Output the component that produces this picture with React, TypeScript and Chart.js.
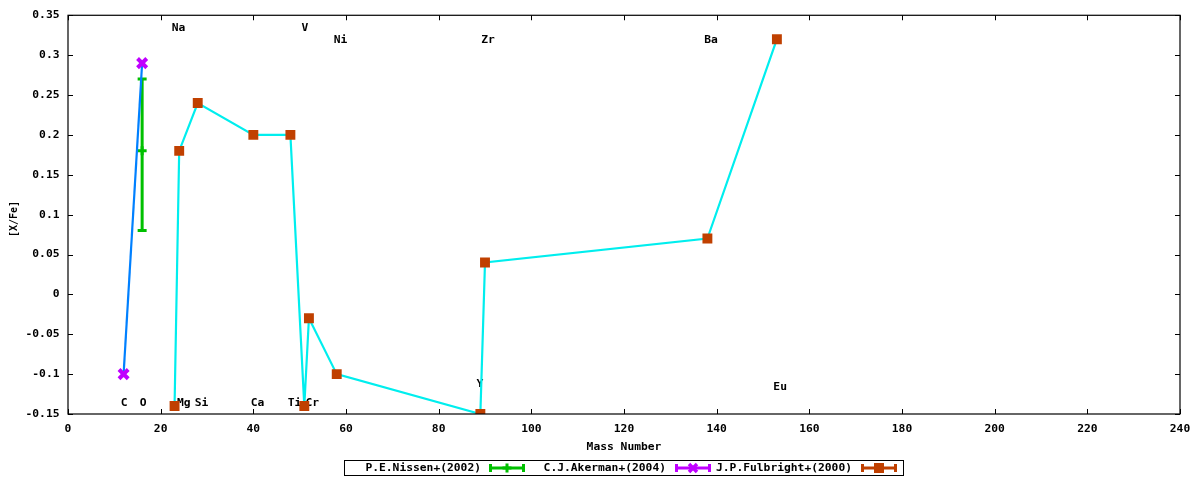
import React, { useEffect, useRef } from "react";
import { Chart, registerables } from "chart.js";

Chart.register(...registerables);

// ---- data ----
const xTicks = [0, 20, 40, 60, 80, 100, 120, 140, 160, 180, 200, 220, 240];
const xTickLabels = ["0", "20", "40", "60", "80", "100", "120", "140", "160", "180", "200", "220", "240"];
const yTicks = [-0.15, -0.1, -0.05, 0, 0.05, 0.1, 0.15, 0.2, 0.25, 0.3, 0.35];
const yTickLabels = ["-0.15", "-0.1", "-0.05", "0", "0.05", "0.1", "0.15", "0.2", "0.25", "0.3", "0.35"];

const nissenX = [16];
const nissenY = [0.18];
const nissenLow = [0.08];
const nissenHigh = [0.27];

const akermanX = [12, 16];
const akermanY = [-0.1, 0.29];

const fulbrightX = [23, 24, 28, 40, 48, 51, 52, 58, 89, 90, 138, 153];
const fulbrightY = [-0.14, 0.18, 0.24, 0.2, 0.2, -0.14, -0.03, -0.1, -0.15, 0.04, 0.07, 0.32];

const elementNames = ["C", "O", "Na", "Mg", "Si", "Ca", "Ti", "V", "Cr", "Ni", "Y", "Zr", "Ba", "Eu"];
const elementLabelX = [12.1, 16.2, 23.85, 25.0, 28.8, 40.9, 48.9, 51.15, 52.7, 58.8, 88.9, 90.65, 138.8, 153.7];
const elementLabelY = [-0.136, -0.136, 0.334, -0.136, -0.136, -0.136, -0.136, 0.334, -0.136, 0.319, -0.113, 0.319, 0.319, -0.116];

const legendNames = ["P.E.Nissen+(2002)", "C.J.Akerman+(2004)", "J.P.Fulbright+(2000)"];
const xTitle = "Mass Number";
const yTitle = "[X/Fe]";

// ---- styles ----
const GREEN = "#00c000";
const BLUE = "#0080ff";
const PURPLE = "#c000ff";
const CYAN = "#00eeee";
const BROWN = "#c04000";
const FONT = 'bold 11.3px "DejaVu Sans Mono"';
const FONT_FAMILY = '"DejaVu Sans Mono"';

function drawMarker(ctx: CanvasRenderingContext2D, kind: string, x: number, y: number, color: string) {
  ctx.save();
  ctx.strokeStyle = color;
  ctx.fillStyle = color;
  if (kind === "plus") {
    ctx.lineWidth = 3;
    ctx.beginPath();
    ctx.moveTo(x - 4.5, y);
    ctx.lineTo(x + 4.5, y);
    ctx.moveTo(x, y - 4.5);
    ctx.lineTo(x, y + 4.5);
    ctx.stroke();
  } else if (kind === "x") {
    ctx.lineWidth = 3.5;
    ctx.beginPath();
    ctx.moveTo(x - 4, y - 4);
    ctx.lineTo(x + 4, y + 4);
    ctx.moveTo(x + 4, y - 4);
    ctx.lineTo(x - 4, y + 4);
    ctx.stroke();
  } else {
    ctx.fillRect(x - 5, y - 5, 10, 10);
  }
  ctx.restore();
}

const customPlugin = {
  id: "gnuplotStyle",
  beforeDatasetsDraw(chart: any) {
    const ctx: CanvasRenderingContext2D = chart.ctx;
    const xs = chart.scales.x;
    const ys = chart.scales.y;
    // element labels (behind data)
    ctx.save();
    ctx.font = FONT;
    ctx.fillStyle = "#000";
    ctx.textAlign = "center";
    ctx.textBaseline = "middle";
    elementNames.forEach((n, i) => {
      ctx.fillText(n, xs.getPixelForValue(elementLabelX[i]), ys.getPixelForValue(elementLabelY[i]));
    });
    ctx.restore();
    // Nissen error bars
    ctx.save();
    ctx.strokeStyle = GREEN;
    ctx.lineWidth = 3;
    nissenX.forEach((xv, i) => {
      const px = xs.getPixelForValue(xv);
      const pLow = ys.getPixelForValue(nissenLow[i]);
      const pHigh = ys.getPixelForValue(nissenHigh[i]);
      ctx.beginPath();
      ctx.moveTo(px, pLow);
      ctx.lineTo(px, pHigh);
      ctx.moveTo(px - 4.5, pLow);
      ctx.lineTo(px + 4.5, pLow);
      ctx.moveTo(px - 4.5, pHigh);
      ctx.lineTo(px + 4.5, pHigh);
      ctx.stroke();
    });
    ctx.restore();
  },
  afterDraw(chart: any) {
    const ctx: CanvasRenderingContext2D = chart.ctx;
    const { left, right, top, bottom } = chart.chartArea;
    const xs = chart.scales.x;
    const ys = chart.scales.y;
    ctx.save();
    // border
    ctx.strokeStyle = "#000";
    ctx.lineWidth = 1.2;
    ctx.strokeRect(left, top, right - left, bottom - top);
    // inward ticks
    ctx.beginPath();
    const tl = 5;
    xTicks.forEach((v) => {
      const px = Math.round(xs.getPixelForValue(v)) + 0.5;
      ctx.moveTo(px, bottom);
      ctx.lineTo(px, bottom - tl);
      ctx.moveTo(px, top);
      ctx.lineTo(px, top + tl);
    });
    yTicks.forEach((v) => {
      const py = Math.round(ys.getPixelForValue(v)) + 0.5;
      ctx.moveTo(left, py);
      ctx.lineTo(left + tl, py);
      ctx.moveTo(right, py);
      ctx.lineTo(right - tl, py);
    });
    ctx.lineWidth = 1;
    ctx.stroke();

    // axis titles
    ctx.fillStyle = "#000";
    ctx.font = FONT;
    ctx.textAlign = "center";
    ctx.textBaseline = "middle";
    ctx.fillText(xTitle, (left + right) / 2, 447);
    ctx.save();
    ctx.translate(14, 219);
    ctx.rotate(-Math.PI / 2);
    ctx.font = "bold 10px " + FONT_FAMILY;
    ctx.fillText(yTitle, 0, 0);
    ctx.restore();

    // legend
    ctx.lineWidth = 1;
    ctx.strokeStyle = "#000";
    ctx.strokeRect(344.5, 460.5, 559, 15);
    const textRight = [481, 666, 852];
    const sampleStart = [489, 675, 861];
    const colors = [GREEN, PURPLE, BROWN];
    const markers = ["plus", "x", "square"];
    const ly = 468;
    legendNames.forEach((name, i) => {
      ctx.font = FONT;
      ctx.fillStyle = "#000";
      ctx.textAlign = "right";
      ctx.textBaseline = "middle";
      ctx.fillText(name, textRight[i], ly);
      const sx = sampleStart[i];
      const ex = sx + 36;
      ctx.save();
      ctx.strokeStyle = colors[i];
      ctx.lineWidth = 3;
      ctx.beginPath();
      ctx.moveTo(sx, ly);
      ctx.lineTo(ex, ly);
      ctx.moveTo(sx + 1.5, ly - 4);
      ctx.lineTo(sx + 1.5, ly + 4);
      ctx.moveTo(ex - 1.5, ly - 4);
      ctx.lineTo(ex - 1.5, ly + 4);
      ctx.stroke();
      ctx.restore();
      drawMarker(ctx, markers[i], (sx + ex) / 2, ly, colors[i]);
    });
    ctx.restore();
  },
};

export default function App() {
  const ref = useRef<HTMLCanvasElement | null>(null);
  useEffect(() => {
    document.body.style.margin = "0";
    const canvas = ref.current;
    if (!canvas) return;
    const tickFont = { family: FONT_FAMILY, size: 11.3, weight: "bold" as const };
    const chart = new Chart(canvas, {
      type: "scatter",
      data: {
        datasets: [
          {
            label: legendNames[2],
            data: fulbrightX.map((x, i) => ({ x, y: fulbrightY[i] })),
            showLine: true,
            borderColor: CYAN,
            borderWidth: 2.2,
            tension: 0,
            pointStyle: "rect",
            pointRadius: 7,
            pointBackgroundColor: BROWN,
            pointBorderColor: BROWN,
            pointBorderWidth: 0,
            order: 1,
          },
          {
            label: legendNames[1],
            data: akermanX.map((x, i) => ({ x, y: akermanY[i] })),
            showLine: true,
            borderColor: BLUE,
            borderWidth: 2.2,
            tension: 0,
            pointStyle: "crossRot",
            pointRadius: 6.5,
            pointBackgroundColor: PURPLE,
            pointBorderColor: PURPLE,
            pointBorderWidth: 4,
            order: 2,
          },
          {
            label: legendNames[0],
            data: nissenX.map((x, i) => ({ x, y: nissenY[i] })),
            showLine: false,
            pointStyle: "cross",
            pointRadius: 4.5,
            pointBorderColor: GREEN,
            pointBackgroundColor: GREEN,
            pointBorderWidth: 3,
            order: 3,
          },
        ],
      },
      options: {
        animation: false,
        responsive: false,
        events: [],
        layout: { padding: { left: 0, right: 20, top: 13, bottom: 0 } },
        plugins: {
          legend: { display: false },
          tooltip: { enabled: false },
        },
        scales: {
          x: {
            type: "linear",
            min: 0,
            max: 240,
            grid: { display: false, drawTicks: false, tickLength: 0 },
            border: { display: false },
            ticks: {
              font: tickFont,
              color: "#000",
              padding: 8,
              autoSkip: false,
              maxRotation: 0,
              callback: (_v: any, i: number) => xTickLabels[i],
            },
            afterBuildTicks: (scale: any) => {
              scale.ticks = xTicks.map((v) => ({ value: v }));
            },
            afterFit: (scale: any) => {
              scale.height = 66;
            },
          },
          y: {
            type: "linear",
            min: -0.15,
            max: 0.35,
            grid: { display: false, drawTicks: false, tickLength: 0 },
            border: { display: false },
            ticks: {
              font: tickFont,
              color: "#000",
              padding: 8.5,
              autoSkip: false,
              callback: (_v: any, i: number) => yTickLabels[i],
            },
            afterBuildTicks: (scale: any) => {
              scale.ticks = yTicks.map((v) => ({ value: v }));
            },
            afterFit: (scale: any) => {
              scale.width = 68;
            },
          },
        },
      },
      plugins: [customPlugin],
    });
    return () => chart.destroy();
  }, []);
  return (
    <div style={{ width: 1200, height: 480, background: "#fff" }}>
      <canvas ref={ref} width={1200} height={480} style={{ display: "block", width: 1200, height: 480 }} />
    </div>
  );
}
